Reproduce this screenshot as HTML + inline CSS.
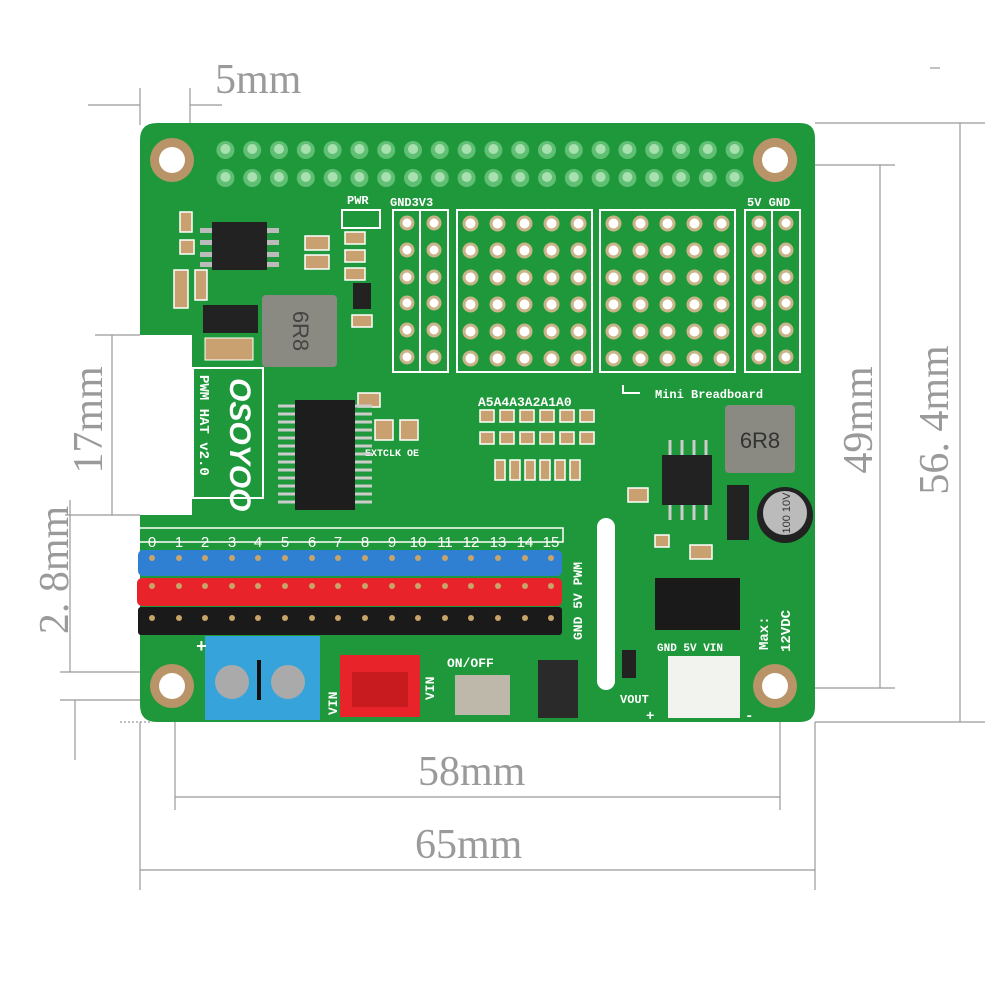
<!DOCTYPE html>
<html><head><meta charset="utf-8"><style>
html,body{margin:0;padding:0;background:#fff;width:1000px;height:1000px;overflow:hidden}
svg{display:block}
.dim{font-family:"Liberation Serif",serif;fill:#9a9a9a;font-size:42px}
.silk{font-family:"Liberation Mono",monospace;fill:#fff;font-weight:bold}
</style></head><body>
<svg width="1000" height="1000" viewBox="0 0 1000 1000" xmlns="http://www.w3.org/2000/svg">
<defs>
<pattern id="bb" x="457" y="210" width="27" height="27" patternUnits="userSpaceOnUse">
<circle cx="13.5" cy="13.5" r="8" fill="#c9b48a"/><circle cx="13.5" cy="13.5" r="5" fill="#fff"/>
</pattern>
<pattern id="bb2" x="600" y="210" width="27" height="27" patternUnits="userSpaceOnUse">
<circle cx="13.5" cy="13.5" r="8" fill="#c9b48a"/><circle cx="13.5" cy="13.5" r="5" fill="#fff"/>
</pattern>
<pattern id="gp" x="212" y="136" width="26.8" height="28" patternUnits="userSpaceOnUse">
<circle cx="13.4" cy="14" r="9" fill="#5fbf72"/><circle cx="13.4" cy="13" r="5" fill="#a8e0b0"/>
</pattern>
</defs>
<g stroke="#999" stroke-width="1.2" fill="none">
<line x1="88" y1="105" x2="140" y2="105"/><line x1="190" y1="105" x2="222" y2="105"/>
<line x1="140" y1="88" x2="140" y2="125"/><line x1="190" y1="88" x2="190" y2="125"/>
<line x1="175" y1="722" x2="175" y2="810"/><line x1="780" y1="722" x2="780" y2="810"/>
<line x1="175" y1="797" x2="780" y2="797"/>
<line x1="140" y1="722" x2="140" y2="890"/><line x1="815" y1="722" x2="815" y2="890"/>
<line x1="140" y1="870" x2="815" y2="870"/>
<line x1="815" y1="123" x2="985" y2="123"/><line x1="815" y1="722" x2="985" y2="722"/>
<line x1="960" y1="123" x2="960" y2="722"/>
<line x1="800" y1="165" x2="895" y2="165"/><line x1="800" y1="688" x2="895" y2="688"/>
<line x1="880" y1="165" x2="880" y2="688"/>
<line x1="95" y1="335" x2="140" y2="335"/><line x1="65" y1="515" x2="140" y2="515"/>
<line x1="112" y1="335" x2="112" y2="515"/>
<line x1="70" y1="500" x2="70" y2="672"/><line x1="60" y1="672" x2="140" y2="672"/>
<line x1="75" y1="700" x2="75" y2="760"/><line x1="60" y1="700" x2="140" y2="700"/>
<line x1="120" y1="722" x2="150" y2="722" stroke-dasharray="2,2"/>
<line x1="930" y1="68" x2="940" y2="68"/>
</g>
<text class="dim" x="215" y="93">5mm</text>
<text class="dim" x="418" y="785">58mm</text>
<text class="dim" x="415" y="858">65mm</text>
<text class="dim" transform="translate(872,420) rotate(-90)" text-anchor="middle">49mm</text>
<text class="dim" transform="translate(948,420) rotate(-90)" text-anchor="middle">56. 4mm</text>
<text class="dim" transform="translate(102,420) rotate(-90)" text-anchor="middle">17mm</text>
<text class="dim" transform="translate(68,570) rotate(-90)" text-anchor="middle">2. 8mm</text>

<path d="M157 123 H800 Q815 123 815 138 V707 Q815 722 800 722 H157 Q140 722 140 705 V515 H192 V335 H140 V140 Q140 123 157 123 Z" fill="#1e983a"/>
<g fill="#b89468"><circle cx="172" cy="160" r="22"/><circle cx="775" cy="160" r="22"/><circle cx="172" cy="686" r="22"/><circle cx="775" cy="686" r="22"/></g>
<g fill="#fff"><circle cx="172" cy="160" r="13"/><circle cx="775" cy="160" r="13"/><circle cx="172" cy="686" r="13"/><circle cx="775" cy="686" r="13"/></g>
<rect x="212" y="136" width="536" height="56" fill="url(#gp)"/>
<g fill="none" stroke="#fff" stroke-width="2">
<rect x="393" y="210" width="55" height="162"/><line x1="420" y1="210" x2="420" y2="372"/>
<rect x="457" y="210" width="135" height="162"/><rect x="600" y="210" width="135" height="162"/>
<rect x="745" y="210" width="55" height="162"/><line x1="772" y1="210" x2="772" y2="372"/>
<rect x="342" y="210" width="38" height="18"/>
</g>
<rect x="457" y="210" width="135" height="162" fill="url(#bb)"/>
<rect x="600" y="210" width="135" height="162" fill="url(#bb2)"/>
<g fill="#fff" stroke="#c9b48a" stroke-width="3">
<circle cx="407" cy="223" r="6"/><circle cx="407" cy="250" r="6"/><circle cx="407" cy="277" r="6"/><circle cx="407" cy="303" r="6"/><circle cx="407" cy="330" r="6"/><circle cx="407" cy="357" r="6"/>
<circle cx="434" cy="223" r="6"/><circle cx="434" cy="250" r="6"/><circle cx="434" cy="277" r="6"/><circle cx="434" cy="303" r="6"/><circle cx="434" cy="330" r="6"/><circle cx="434" cy="357" r="6"/>
<circle cx="759" cy="223" r="6"/><circle cx="759" cy="250" r="6"/><circle cx="759" cy="277" r="6"/><circle cx="759" cy="303" r="6"/><circle cx="759" cy="330" r="6"/><circle cx="759" cy="357" r="6"/>
<circle cx="786" cy="223" r="6"/><circle cx="786" cy="250" r="6"/><circle cx="786" cy="277" r="6"/><circle cx="786" cy="303" r="6"/><circle cx="786" cy="330" r="6"/><circle cx="786" cy="357" r="6"/>
</g>
<text class="silk" x="390" y="206" font-size="12">GND3V3</text>
<text class="silk" x="747" y="206" font-size="12">5V GND</text>
<text class="silk" x="347" y="204" font-size="12">PWR</text>
<text class="silk" x="655" y="398" font-size="12">Mini Breadboard</text>
<path d="M623 385 V393 H640" stroke="#fff" stroke-width="2" fill="none"/>
<text class="silk" x="478" y="406" font-size="13">A5A4A3A2A1A0</text>
<g fill="#c9a070" stroke="#fff" stroke-width="1.5">
<rect x="480" y="410" width="14" height="12"/><rect x="500" y="410" width="14" height="12"/><rect x="520" y="410" width="14" height="12"/><rect x="540" y="410" width="14" height="12"/><rect x="560" y="410" width="14" height="12"/><rect x="580" y="410" width="14" height="12"/>
<rect x="480" y="432" width="14" height="12"/><rect x="500" y="432" width="14" height="12"/><rect x="520" y="432" width="14" height="12"/><rect x="540" y="432" width="14" height="12"/><rect x="560" y="432" width="14" height="12"/><rect x="580" y="432" width="14" height="12"/>
<rect x="495" y="460" width="10" height="20"/><rect x="510" y="460" width="10" height="20"/><rect x="525" y="460" width="10" height="20"/><rect x="540" y="460" width="10" height="20"/><rect x="555" y="460" width="10" height="20"/><rect x="570" y="460" width="10" height="20"/>
<rect x="375" y="420" width="18" height="20"/><rect x="400" y="420" width="18" height="20"/>
</g>
<text class="silk" x="365" y="456" font-size="10">EXTCLK OE</text>
<rect x="212" y="222" width="55" height="48" fill="#222"/>
<g fill="#bbb"><rect x="200" y="228" width="12" height="5"/><rect x="200" y="240" width="12" height="5"/><rect x="200" y="252" width="12" height="5"/><rect x="200" y="262" width="12" height="5"/><rect x="267" y="228" width="12" height="5"/><rect x="267" y="240" width="12" height="5"/><rect x="267" y="252" width="12" height="5"/><rect x="267" y="262" width="12" height="5"/></g>
<rect x="203" y="305" width="55" height="28" fill="#222"/>
<rect x="262" y="295" width="75" height="72" rx="4" fill="#8a8a82"/>
<text x="300" y="338" font-family="Liberation Sans,sans-serif" font-size="22" fill="#444" text-anchor="middle" transform="rotate(90 300 331)">6R8</text>
<rect x="205" y="338" width="48" height="22" fill="#c9a070" stroke="#fff"/>
<g fill="#c9a070" stroke="#fff" stroke-width="1.5">
<rect x="180" y="212" width="12" height="20"/><rect x="180" y="240" width="14" height="14"/><rect x="174" y="270" width="14" height="38"/><rect x="195" y="270" width="12" height="30"/>
<rect x="305" y="236" width="24" height="14"/><rect x="305" y="255" width="24" height="14"/><rect x="345" y="232" width="20" height="12"/><rect x="345" y="250" width="20" height="12"/><rect x="345" y="268" width="20" height="12"/><rect x="352" y="315" width="20" height="12"/><rect x="358" y="393" width="22" height="14"/>
</g>
<rect x="353" y="283" width="18" height="26" fill="#222"/>
<rect x="193" y="368" width="70" height="130" fill="none" stroke="#fff" stroke-width="2"/>
<text class="silk" font-size="14" transform="translate(200,375) rotate(90)">PWM HAT v2.0</text>
<text font-family="Liberation Sans,sans-serif" font-weight="bold" font-style="italic" font-size="30" fill="#fff" transform="translate(230,378) rotate(90)">OSOYOO</text>
<rect x="295" y="400" width="60" height="110" fill="#1d1d1d"/>
<g stroke="#ccc" stroke-width="3">
<line x1="278" y1="406" x2="295" y2="406"/><line x1="278" y1="414" x2="295" y2="414"/><line x1="278" y1="422" x2="295" y2="422"/><line x1="278" y1="430" x2="295" y2="430"/><line x1="278" y1="438" x2="295" y2="438"/><line x1="278" y1="446" x2="295" y2="446"/><line x1="278" y1="454" x2="295" y2="454"/><line x1="278" y1="462" x2="295" y2="462"/><line x1="278" y1="470" x2="295" y2="470"/><line x1="278" y1="478" x2="295" y2="478"/><line x1="278" y1="486" x2="295" y2="486"/><line x1="278" y1="494" x2="295" y2="494"/><line x1="278" y1="502" x2="295" y2="502"/>
<line x1="355" y1="406" x2="372" y2="406"/><line x1="355" y1="414" x2="372" y2="414"/><line x1="355" y1="422" x2="372" y2="422"/><line x1="355" y1="430" x2="372" y2="430"/><line x1="355" y1="438" x2="372" y2="438"/><line x1="355" y1="446" x2="372" y2="446"/><line x1="355" y1="454" x2="372" y2="454"/><line x1="355" y1="462" x2="372" y2="462"/><line x1="355" y1="470" x2="372" y2="470"/><line x1="355" y1="478" x2="372" y2="478"/><line x1="355" y1="486" x2="372" y2="486"/><line x1="355" y1="494" x2="372" y2="494"/><line x1="355" y1="502" x2="372" y2="502"/>
</g>
<rect x="725" y="405" width="70" height="68" rx="4" fill="#8a8a82"/>
<text x="760" y="448" font-family="Liberation Sans,sans-serif" font-size="22" fill="#333" text-anchor="middle">6R8</text>
<rect x="662" y="455" width="50" height="50" fill="#222"/>
<g stroke="#ccc" stroke-width="3"><line x1="670" y1="440" x2="670" y2="455"/><line x1="682" y1="440" x2="682" y2="455"/><line x1="694" y1="440" x2="694" y2="455"/><line x1="706" y1="440" x2="706" y2="455"/><line x1="670" y1="505" x2="670" y2="520"/><line x1="682" y1="505" x2="682" y2="520"/><line x1="694" y1="505" x2="694" y2="520"/><line x1="706" y1="505" x2="706" y2="520"/></g>
<rect x="727" y="485" width="22" height="55" fill="#222"/>
<circle cx="785" cy="515" r="28" fill="#222"/><circle cx="785" cy="513" r="22" fill="#bbb"/>
<text x="785" y="518" font-family="Liberation Sans,sans-serif" font-size="11" fill="#333" text-anchor="middle" transform="rotate(-90 785 513)">100 10V</text>
<g fill="#c9a070" stroke="#fff" stroke-width="1.5"><rect x="628" y="488" width="20" height="14"/><rect x="690" y="545" width="22" height="14"/><rect x="655" y="535" width="14" height="12"/></g>
<rect x="138" y="528" width="425" height="14" fill="none" stroke="#fff" stroke-width="1.5"/>
<g font-family="Liberation Sans,sans-serif" font-size="15" fill="#fff" text-anchor="middle">
<text x="152" y="547">0</text><text x="179" y="547">1</text><text x="205" y="547">2</text><text x="232" y="547">3</text><text x="258" y="547">4</text><text x="285" y="547">5</text><text x="312" y="547">6</text><text x="338" y="547">7</text><text x="365" y="547">8</text><text x="392" y="547">9</text><text x="418" y="547">10</text><text x="445" y="547">11</text><text x="471" y="547">12</text><text x="498" y="547">13</text><text x="525" y="547">14</text><text x="551" y="547">15</text>
</g>
<rect x="138" y="550" width="424" height="26" rx="5" fill="#2f7fd3"/>
<rect x="137" y="578" width="425" height="28" rx="5" fill="#e8232a"/>
<rect x="138" y="607" width="424" height="28" rx="3" fill="#1a1a1a"/>
<g fill="#c8a46a">
<circle cx="152" cy="558" r="3"/><circle cx="179" cy="558" r="3"/><circle cx="205" cy="558" r="3"/><circle cx="232" cy="558" r="3"/><circle cx="258" cy="558" r="3"/><circle cx="285" cy="558" r="3"/><circle cx="312" cy="558" r="3"/><circle cx="338" cy="558" r="3"/><circle cx="365" cy="558" r="3"/><circle cx="392" cy="558" r="3"/><circle cx="418" cy="558" r="3"/><circle cx="445" cy="558" r="3"/><circle cx="471" cy="558" r="3"/><circle cx="498" cy="558" r="3"/><circle cx="525" cy="558" r="3"/><circle cx="551" cy="558" r="3"/>
<circle cx="152" cy="586" r="3"/><circle cx="179" cy="586" r="3"/><circle cx="205" cy="586" r="3"/><circle cx="232" cy="586" r="3"/><circle cx="258" cy="586" r="3"/><circle cx="285" cy="586" r="3"/><circle cx="312" cy="586" r="3"/><circle cx="338" cy="586" r="3"/><circle cx="365" cy="586" r="3"/><circle cx="392" cy="586" r="3"/><circle cx="418" cy="586" r="3"/><circle cx="445" cy="586" r="3"/><circle cx="471" cy="586" r="3"/><circle cx="498" cy="586" r="3"/><circle cx="525" cy="586" r="3"/><circle cx="551" cy="586" r="3"/>
<circle cx="152" cy="618" r="3"/><circle cx="179" cy="618" r="3"/><circle cx="205" cy="618" r="3"/><circle cx="232" cy="618" r="3"/><circle cx="258" cy="618" r="3"/><circle cx="285" cy="618" r="3"/><circle cx="312" cy="618" r="3"/><circle cx="338" cy="618" r="3"/><circle cx="365" cy="618" r="3"/><circle cx="392" cy="618" r="3"/><circle cx="418" cy="618" r="3"/><circle cx="445" cy="618" r="3"/><circle cx="471" cy="618" r="3"/><circle cx="498" cy="618" r="3"/><circle cx="525" cy="618" r="3"/><circle cx="551" cy="618" r="3"/>
</g>
<text class="silk" font-size="13" transform="translate(582,640) rotate(-90)">GND 5V PWM</text>
<rect x="597" y="518" width="18" height="172" rx="9" fill="#fff"/>
<rect x="205" y="636" width="115" height="84" fill="#36a3db"/>
<circle cx="232" cy="682" r="17" fill="#aaa"/><circle cx="288" cy="682" r="17" fill="#aaa"/>
<rect x="257" y="660" width="4" height="40" fill="#111"/>
<text class="silk" font-size="18" x="196" y="652">+</text>
<text class="silk" font-size="13" transform="translate(337,715) rotate(-90)">VIN</text>
<text class="silk" font-size="13" transform="translate(434,700) rotate(-90)">VIN</text>
<rect x="340" y="655" width="80" height="62" fill="#e8232a"/>
<rect x="352" y="672" width="56" height="35" fill="#c81b20"/>
<text class="silk" font-size="13" x="447" y="667">ON/OFF</text>
<rect x="455" y="675" width="55" height="40" fill="#bdb8aa"/>
<rect x="538" y="660" width="40" height="58" fill="#2a2a2a"/>
<rect x="655" y="578" width="85" height="52" fill="#1a1a1a"/>
<text class="silk" font-size="11" x="657" y="651">GND 5V VIN</text>
<rect x="668" y="656" width="72" height="62" fill="#f2f2ee"/>
<rect x="622" y="650" width="14" height="28" fill="#222"/>
<text class="silk" font-size="12" x="620" y="703">VOUT</text>
<text class="silk" font-size="14" x="646" y="720">+</text>
<text class="silk" font-size="14" x="745" y="720">-</text>
<text class="silk" font-size="14" transform="translate(768,650) rotate(-90)">Max:</text>
<text class="silk" font-size="14" transform="translate(790,652) rotate(-90)">12VDC</text>
</svg>
</body></html>
